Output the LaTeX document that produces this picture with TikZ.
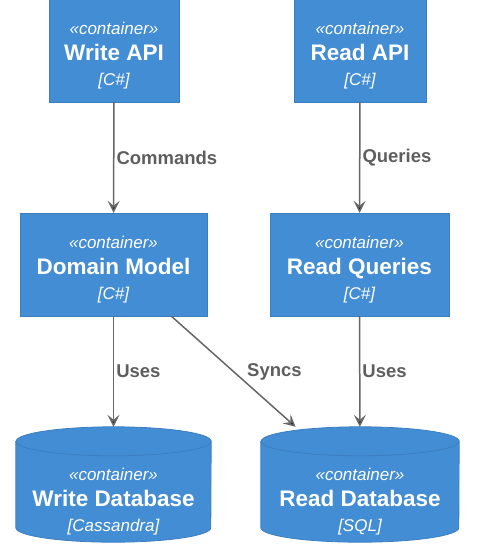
\documentclass[tikz,border=0pt]{standalone}
\usepackage{fontspec}
\setmainfont{Liberation Sans}
\usetikzlibrary{arrows.meta}
\pgfdeclarelayer{background}
\pgfsetlayers{background,main}
\definecolor{boxblue}{HTML}{438DD5}
\definecolor{boxline}{HTML}{3C7FC0}
\definecolor{linegray}{HTML}{666666}
\definecolor{relgray}{HTML}{5E5E5E}
\newcommand{\stereo}{\rule{0pt}{23pt}{\itshape «container»}}
\newcommand{\dbstereo}{\rule{0pt}{47pt}{\itshape «container»}}
\newcommand{\ttl}[1]{{\fontsize{22.5}{25.5}\selectfont\bfseries #1}}
\newcommand{\tech}[1]{{\itshape #1}}

\begin{document}
\begin{tikzpicture}[x=1pt,y=-1pt,
  box/.style={rectangle,draw=boxline,fill=boxblue,text=white,align=center,
    inner sep=0pt,minimum height=103pt,font=\fontsize{17}{25.5}\selectfont},
  db/.style={rectangle,text=white,align=center,inner sep=0pt,minimum height=115pt,
    font=\fontsize{17}{25.5}\selectfont},
  dbshape/.style={fill=boxblue,draw=boxline,line width=0.8pt},
  conn/.style={draw=linegray,line width=1.5pt,-{Stealth[length=12pt,width=12pt,inset=5pt]}},
  rel/.style={text=relgray,inner sep=2pt,font=\fontsize{18.5}{20}\selectfont\bfseries}]
  \useasboundingbox (0,0) rectangle (502,550);
  \node[box,minimum width=130pt] (wapi) at (114,50.5) {\stereo\\\ttl{Write API}\\\tech{[C\#]}};
  \node[box,minimum width=132pt] (rapi) at (360,50.5) {\stereo\\\ttl{Read API}\\\tech{[C\#]}};
  \node[box,minimum width=187pt] (dm) at (113.5,264.5) {\stereo\\\ttl{Domain Model}\\\tech{[C\#]}};
  \node[box,minimum width=179pt] (rq) at (359.5,264.5) {\stereo\\\ttl{Read Queries}\\\tech{[C\#]}};
  \node[db,minimum width=195pt] (wdb) at (113.5,484.5) {\dbstereo\\\ttl{Write Database}\\\tech{[Cassandra]}};
  \node[db,minimum width=198pt] (rdb) at (360,484.5) {\dbstereo\\\ttl{Read Database}\\\tech{[SQL]}};
  % cylinders behind the database texts
  \begin{pgfonlayer}{background}
    \foreach \n/\r in {wdb/97.5,rdb/99}{
      \path[dbshape] ([yshift=-14.5pt]\n.north west) -- ([yshift=14.5pt]\n.south west)
        arc[start angle=180,end angle=360,x radius=\r pt,y radius=14.5pt]
        -- ([yshift=-14.5pt]\n.north east)
        arc[start angle=0,end angle=180,x radius=\r pt,y radius=14.5pt] -- cycle;
      \draw[boxline,line width=0.8pt] ([yshift=-14.5pt]\n.north west)
        arc[start angle=180,end angle=360,x radius=\r pt,y radius=14.5pt];
    }
  \end{pgfonlayer}
  \path[conn]
     (wapi) edge node [rel,right] {Commands} (dm)
     (rapi) edge node [rel,right] {Queries} (rq)
     (dm) edge node [rel,right] {Uses} (wdb)
     (dm) edge node [rel,right=11pt] {Syncs} (rdb)
     (rq) edge node [rel,right] {Uses} (rdb);
\end{tikzpicture}
\end{document}
